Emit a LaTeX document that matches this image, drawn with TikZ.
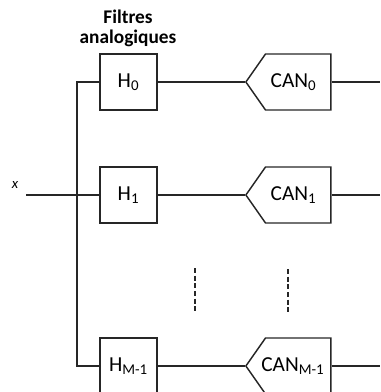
\documentclass[tikz,border=0pt]{standalone}
\usepackage{fontspec}
\setmainfont{Carlito}
\usetikzlibrary{arrows.meta, positioning, shapes.symbols}

\begin{document}
\begin{tikzpicture}[x=0.75pt, y=-0.75pt, line width=1.1pt, draw=black!85,
  filtre/.style={draw, minimum width=42.75pt, minimum height=42pt, inner sep=0pt, font=\fontsize{16}{18}\selectfont},
  can/.style={draw, signal, signal to=west, signal pointer angle=110, minimum width=63.75pt, minimum height=42pt, inner sep=0pt, font=\fontsize{16}{18}\selectfont}]
\useasboundingbox (0,0) rectangle (380,392);
\clip (0,0) rectangle (380,392);
% title above the filter bank
\node[font=\bfseries\fontsize{14.5}{15}\selectfont, align=center, inner sep=0pt] (titre) at (128,28) {Filtres\\analogiques};
% filters and converters
\node[filtre] (h0) at (128.5,82) {H\textsubscript{0}};
\node[filtre] (h1) at (128.5,195) {H\textsubscript{1}};
\node[filtre] (hm) at (128.5,366) {H\textsubscript{M-1}};
% the text sits a little left of the body of the shape
\node[can, anchor=west] (can0) at (245,82) {\hspace*{-7pt}CAN\textsubscript{0}};
\node[can, anchor=west] (can1) at (245,195) {\hspace*{-7pt}CAN\textsubscript{1}};
\node[can, anchor=west] (canm) at (245,366) {\hspace*{-8pt}CAN\textsubscript{M-1}};
% input and the bus
\node[font=\itshape\fontsize{11}{12}\selectfont, inner sep=0pt] (xin) at (15,185) {x};
\coordinate (entree) at (26,195);
\coordinate (b0) at (77,82);
\coordinate (bm) at (77,366);
\coordinate (fin) at (380,0);
\draw (h0.west) -- (b0) -- (bm) -- (hm.west);
\draw (entree) -- (h1.west);
\foreach \i in {0,1,m}{
  \draw (h\i.east) -- (can\i.west);
  \draw (can\i.east) -- (can\i.east -| fin);
}
% the dots between the branches
\draw[dash pattern=on 3.75pt off 2pt] (195,268) -- (195,313);
\draw[dash pattern=on 3.75pt off 2pt] (288,269) -- (288,315);
\end{tikzpicture}
\end{document}
